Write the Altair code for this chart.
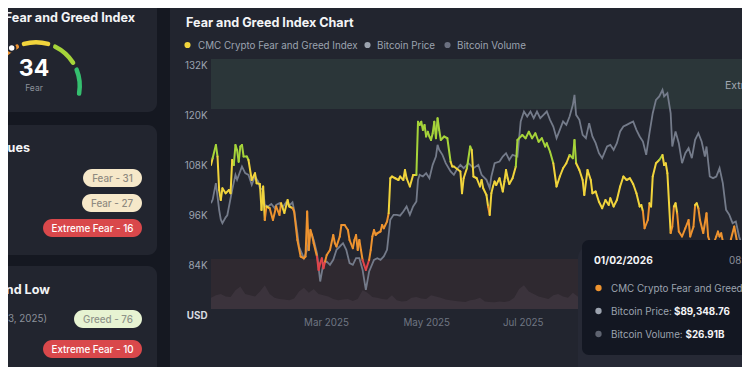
import altair as alt
import pandas as pd
import math

START = pd.Timestamp("2025-01-02")

# ---------------- data ----------------
fg_days = [0, 1, 3, 4, 5, 6, 7, 9, 11, 12, 13, 14, 15, 16, 17, 18, 19, 20, 22, 23, 25, 27, 28, 30, 31, 32, 33, 34,
           36, 38, 40, 42, 43, 45, 47, 48, 50, 51, 53, 55, 57, 58, 59, 60, 61, 62, 63, 65, 66, 67, 68, 69, 70, 71,
           73, 75, 76, 77, 79, 80, 82, 84, 85, 87, 88, 89, 90, 91, 92, 93, 94, 95, 97, 98, 99, 100, 101, 102, 104,
           105, 106, 108, 109, 110, 111, 113, 115, 116, 118, 119, 120, 122, 124, 126, 127, 128, 129, 130, 131, 132,
           133, 134, 135, 136, 137, 138, 139, 140, 141, 143, 145, 147, 148, 149, 151, 153, 154, 155, 157, 159, 160,
           161, 163, 165, 166, 167, 169, 170, 171, 172, 173, 174, 175, 177, 179, 180, 181, 182, 183, 185, 187, 188,
           191, 193, 195, 197, 199, 201, 203, 205, 206, 208, 210, 212, 214, 216, 218, 220, 222, 223, 224, 226, 228,
           229, 231, 233, 234, 236, 238, 240, 242, 244, 245, 247, 249, 251, 253, 255, 257, 259, 261, 263, 264, 265,
           266, 268, 269, 270, 271, 273, 275, 277, 278, 279, 280, 282, 283, 284, 285, 286, 287, 289, 291, 293, 294,
           296, 297, 298, 299, 300, 302, 304, 305, 306, 308, 310, 311, 312, 313, 315, 317, 319, 321, 323, 325, 327,
           329, 331]
fg_vals = [57.6, 60.3, 65.6, 61, 47.6, 43.6, 48.3, 46.3, 47.6, 46.3, 59.6, 57.6, 65.6, 63.6, 58.9, 65, 65.6, 61, 61,
           59.6, 51.6, 54.3, 50.3, 50, 39.6, 49, 35.6, 41,
           40.3, 35.6, 41, 37.6, 42.3, 38.4, 43.6, 41, 40.4, 39, 27.6, 21, 20.3, 21, 39, 23.6, 31.6, 29.6, 26.3, 21,
           15.6, 18.3, 20.3, 16.3, 19, 21.6,
           23.6, 29.6, 26.3, 25, 29, 33.6, 33.6, 31.6, 27.6, 24.3, 27.6, 29.6, 23.6, 27.6, 23.6, 19.6, 17.6, 15.6,
           19.6, 23.6, 29, 31.6, 29.6, 30.3, 31,
           33.6, 32.3, 35, 38.3, 52.3, 53, 52.3, 51.6, 53, 51.6, 55.6, 52.3, 49, 53.6, 53.6, 74.9, 73.6, 74.9, 71.6,
           73.6, 69,
           70.9, 69, 67.6, 70.3, 74.9, 68.3, 76.3, 71.6, 67.6, 69, 68.3, 58.9, 57, 57, 56, 55, 46.3, 52.3, 56.3, 65,
           63.6,
           53, 52.3, 49, 51.6, 48.3, 45.6, 41, 37.6, 46.3, 49, 51, 49.6, 52.3, 47, 51, 55.6, 52.3, 50, 52.3, 57, 67.6,
           69.6, 68.3, 70.9, 68.3, 70.3, 66.9, 68.3, 65, 66.3, 62.9, 58.3, 49, 53, 56.3, 58.3, 61.6, 60.3, 67.6, 58.3,
           55.6, 51.6,
           45.6, 55.6, 51.6, 46.3, 47, 42.9, 40.3, 43.6, 41.6, 44.3, 41, 43.6, 49, 53, 51.6, 52.3, 50, 46.3, 41, 41.6,
           39,
           32.3, 35.6, 42.3, 41, 53, 58.3, 59.6, 61.6, 57.6, 58.3, 54.3, 30.4, 32.9, 41, 42.3, 38.3, 31, 29, 32.3,
           35.6, 29,
           32.9, 41.6, 42.3, 40.3, 35.6, 30.4, 38.3, 29, 26.9, 25.6, 29, 31, 29, 30.3, 24, 20, 28, 33, 26, 22, 30,
           25, 23]

price_days = [0, 1, 3, 5, 6, 7, 9, 10, 13, 15, 16, 19, 21, 23, 25, 27, 29, 30, 32, 33, 35, 37, 39, 40, 42, 44, 46,
              48, 50, 51, 53, 54, 55, 57, 59, 61, 63, 65, 67, 69, 71, 73, 75, 77, 79, 81, 83, 85, 87, 89, 91, 93, 95,
              97, 100, 102, 104, 106, 108, 110, 112, 114, 116, 118, 120, 122, 124, 126, 127, 128, 130, 132, 134, 136,
              138, 139, 140, 142, 144, 147, 149, 151, 153, 155, 158, 161, 164, 166, 169, 171, 172, 174, 177, 179,
              181, 183, 185, 188, 190, 192, 194, 196, 198, 200, 202, 204, 206, 208, 210, 212, 214, 216, 218, 220,
              222, 223, 224, 226, 228, 230, 232, 234, 236, 238, 240, 243, 245, 247, 249, 251, 253, 255, 257, 259,
              261, 263, 265, 267, 269, 271, 273, 275, 277, 278, 280, 282, 283, 285, 287, 289, 291, 293, 295, 297,
              299, 301, 303, 304, 306, 308, 310, 312, 314, 316, 318, 320, 322, 324, 326, 328, 330, 331]
price_k = [97.4, 98.2, 102.2, 95.8, 93.5, 92.6, 94, 94.5, 100.6, 104.2, 103, 106.2, 104.6, 104.2, 101.8, 103.8,
           102.6, 101, 100.6, 97, 96.6, 97.2, 96.2, 97, 97.4, 96.4, 97.6,
           96.8, 97.6, 95.8, 90.2, 87, 86, 84.2, 86.2, 90.6, 88.6, 85.4, 78.6, 83, 83.4, 82.6, 83.8, 86.2, 87, 87.8,
           86.2, 83, 82.6, 84.2, 84.2, 81.4, 76.6,
           81, 83.8, 84.2, 83.8, 84.6, 86.2, 93.4, 94.6, 94.6, 94.4, 95.4, 96.6, 94.6, 96.6, 97.8, 103, 104.2, 103.8,
           104.6, 103.4, 106.6,
           108.6, 111.4, 110.2, 109, 107, 105, 104.2, 105.6, 106.6, 105.8, 107, 105.8, 106.6, 104.2, 103, 101, 103.8,
           107, 107.4, 108.6,
           109.4, 107.8, 109, 108.6, 117, 119.4, 118.2, 119.4, 117.8, 119.4, 117.8, 118.6, 119.4, 117.4, 115.8, 113,
           115, 117, 116.2, 118.2,
           121, 123.4, 118.6, 117.4, 113.8, 113, 116.6, 113.4, 111.8, 109.4, 108.2, 111, 111.4, 110.2, 111.8, 114.6,
           115.8, 116.2, 116.6, 117,
           115, 113.4, 112.2, 109, 114.2, 119, 122.2, 123, 124.6, 123, 123.8, 119, 111, 114.6, 111.8, 107, 109.4,
           110.6, 108.2, 112.6,
           114.2, 112.2, 108.6, 111, 103.8, 103.4, 103.8, 105.8, 102.2, 95.8, 94.6, 92.6, 93, 89.4, 87, 85.5, 86.5,
           87]

vol_days = list(range(0, 331, 3))
vol_b = [45, 55, 60, 50, 48, 75, 90, 60, 55, 50,
         70, 95, 60, 45, 40, 38, 35, 42, 70, 85,
         65, 80, 60, 55, 50, 40, 35, 38, 40, 32,
         40, 75, 65, 48, 45, 40, 38, 55, 35, 30,
         32, 45, 48, 42, 40, 55, 50, 45, 38, 35,
         32, 30, 28, 35, 38, 45, 30, 28, 27, 30,
         28, 32, 45, 80, 95, 70, 60, 50, 45, 40,
         55, 60, 50, 45, 65, 50, 38, 30, 35, 40,
         42, 35, 30, 45, 40, 35, 38, 50, 45, 42,
         40, 55, 60, 65, 50, 90, 80, 60, 55, 58,
         60, 70, 55, 58, 65, 80, 85, 75, 70, 65,
         55]

zone_names = ["Extreme Fear", "Extreme Greed"]
zone_lo = [0, 80]
zone_hi = [20, 100]
zone_mid = [10, 90]

band_names = ["Extreme Fear", "Fear", "Neutral", "Greed", "Extreme Greed"]
band_colors = ["#e2444a", "#ee932f", "#f1d43c", "#a6d43a", "#35bf6f"]

price_ticks = [72, 84, 96, 108, 120, 132]

# ---------------- tables ----------------
fg_dates = START + pd.to_timedelta(fg_days, unit="D")
seg = pd.DataFrame({"date": fg_dates[:-1], "date2": fg_dates[1:],
                    "fg": fg_vals[:-1], "fg2": fg_vals[1:]})
price = pd.DataFrame({"date": START + pd.to_timedelta(price_days, unit="D"), "price": price_k})
vol = pd.DataFrame({"date": START + pd.to_timedelta(vol_days, unit="D"), "vol": vol_b})
zones = pd.DataFrame({"name": zone_names, "lo": zone_lo, "hi": zone_hi, "mid": zone_mid})

FONT = "Inter"
OX, OY = 211, 59
W, H = 531, 250
FS = 9.8

xscale = alt.Scale(domain=[alt.DateTime(year=2025, month=1, date=2),
                           alt.DateTime(year=2025, month=11, date=23, hours=18, minutes=30)])
xaxis = alt.Axis(values=[alt.DateTime(year=2025, month=m, date=1) for m in (3, 5, 7, 9, 11)],
                 format="%b %Y", labelAlign="left", labelOffset=-2, labelPadding=8,
                 labelColor="#6f7582", labelFontSize=9.8, labelFont=FONT,
                 grid=False, ticks=False, domain=False, title=None)
idx_scale = alt.Scale(domain=[0, 100], nice=False, zero=False)

one = alt.Data(values=[{"k": 0}])


def rect(x1, y1, x2, y2, fill, r=0, op=1.0):
    return alt.Chart(one).mark_rect(fill=fill, cornerRadius=r, opacity=op).encode(
        x=alt.value(x1 - OX), x2=alt.value(x2 - OX), y=alt.value(y1 - OY), y2=alt.value(y2 - OY))


def text(x, y, s, size=FS, color="#9ca3af", weight="normal", align="left"):
    return alt.Chart(one).mark_text(text=s, fontSize=size, color=color, fontWeight=weight,
                                    align=align, baseline="middle", font=FONT).encode(
        x=alt.value(x - OX), y=alt.value(y - OY))


def dot(x, y, color, size=40, stroke=None):
    kw = dict(size=size, fill=color, opacity=1)
    if stroke:
        kw.update(stroke=stroke, strokeWidth=2, strokeOpacity=1)
    return alt.Chart(one).mark_point(filled=True, **kw).encode(x=alt.value(x - OX), y=alt.value(y - OY))


def pill(x1, y1, x2, y2, fill, label, tcolor, weight=500):
    return [rect(x1, y1, x2, y2, fill, r=(y2 - y1) / 2),
            text((x1 + x2) / 2, (y1 + y2) / 2 + 0.5, label, FS, tcolor, weight, "center")]


layers = []
# page background (gap) and left cards
CARD = "#22252f"
layers.append(rect(-20, -20, 170, 400, "#151821"))
layers.append(rect(-30, -20, 157, 112, CARD, r=9))
layers.append(rect(-30, 125, 157, 255, CARD, r=9))
layers.append(rect(-30, 266, 157, 420, CARD, r=9))

# card 1: gauge
layers.append(text(135, 18, "CMC Crypto Fear and Greed Index", 12.6, "#f3f4f6", "bold", "right"))
gauge_cols = ["#e2444a", "#ee932f", "#f1d43c", "#a6d43a", "#35bf6f"]
for i, c in enumerate(gauge_cols):
    a1 = math.radians(360 - 105 + 42 * i + 2.2)
    a2 = math.radians(360 - 105 + 42 * (i + 1) - 2.2)
    layers.append(alt.Chart(one).mark_arc(theta=a1, theta2=a2, radius=46, radius2=41.5,
                                          cornerRadius=2.2, fill=c).encode(
        x=alt.value(36 - OX), y=alt.value(86 - OY)))
layers.append(dot(11.7, 48, "#ffffff", size=55, stroke=CARD))
layers.append(text(34, 69, "34", 23, "#ffffff", "bold", "center"))
layers.append(text(34, 88, "Fear", 8.5, "#8b909a", "normal", "center"))

# card 2: historical values
layers.append(text(30, 148, "Historical Values", 12.6, "#f3f4f6", "bold", "right"))
layers += pill(83, 169, 142, 187, "#f6e8c9", "Fear - 31", "#8f8a80")
layers += pill(82, 194, 142, 212, "#f6e8c9", "Fear - 27", "#8f8a80")
layers += pill(43, 219, 142, 237, "#d9484b", "Extreme Fear - 16", "#ffffff")

# card 3: yearly high and low
layers.append(text(50, 290, "Yearly High and Low", 12.6, "#f3f4f6", "bold", "right"))
layers.append(text(47, 319, "Yearly High (May 23, 2025)", FS, "#8b909a", "normal", "right"))
layers += pill(74, 310, 142, 328, "#e7f3d2", "Greed - 76", "#8f948a")
layers += pill(43, 340, 142, 358, "#d9484b", "Extreme Fear - 10", "#ffffff")

# main chart title + legend
layers.append(text(186, 23, "Fear and Greed Index Chart", 12.6, "#f3f4f6", "bold"))
layers.append(dot(187.5, 45, "#f1d43c", 38))
layers.append(text(198, 45.5, "CMC Crypto Fear and Greed Index", FS, "#9ca3af"))
layers.append(dot(367.5, 45, "#9ca3af", 38))
layers.append(text(377, 45.5, "Bitcoin Price", FS, "#9ca3af"))
layers.append(dot(447.5, 45, "#6b7080", 38))
layers.append(text(457, 45.5, "Bitcoin Volume", FS, "#9ca3af"))

# zones
zone_layer = alt.Chart(zones).mark_rect().encode(
    x=alt.value(0), x2=alt.value(W),
    y=alt.Y("lo:Q", scale=idx_scale, axis=None), y2="hi:Q",
    color=alt.Color("name:N", scale=alt.Scale(domain=zone_names, range=["#2f2930", "#2b3639"]), legend=None))
zone_text = alt.Chart(zones).mark_text(align="left", baseline="middle", dy=2, fontSize=10.5,
                                       color="#a3a8b2", font=FONT).encode(
    x=alt.value(725 - OX), y=alt.Y("mid:Q", scale=idx_scale, axis=None), text="name:N")

vol_layer = alt.Chart(vol).mark_area(color="#3b333c", interpolate="linear", clip=True).encode(
    x=alt.X("date:T", scale=xscale, axis=xaxis),
    y=alt.Y("vol:Q", scale=alt.Scale(domain=[0, 1000], nice=False), axis=None))

price_layer = alt.Chart(price).mark_line(color="#747b8a", strokeWidth=1.8, clip=True).encode(
    x=alt.X("date:T", scale=xscale, axis=xaxis),
    y=alt.Y("price:Q", scale=alt.Scale(domain=[72, 132], nice=False, zero=False),
            axis=alt.Axis(values=price_ticks, title=None, ticks=False, domain=False,
                          labelExpr="datum.value == 72 ? 'USD' : datum.value + 'K'",
                          labelColor={"condition": {"test": "datum.value == 72", "value": "#d8dbe0"},
                                      "value": "#9ca3af"},
                          labelFontWeight={"condition": {"test": "datum.value == 72", "value": "bold"},
                                           "value": "normal"},
                          labelFont=FONT, labelFontSize=9.8, labelBaseline="top", labelOffset=1.5,
                          labelPadding=4, gridColor="#646a78", gridDash=[1.5, 3], gridWidth=1)))

fg_layer = alt.Chart(seg).transform_calculate(
    band="(datum.fg + datum.fg2) / 2 < 20 ? 'Extreme Fear' : (datum.fg + datum.fg2) / 2 < 40 ? 'Fear' : "
         "(datum.fg + datum.fg2) / 2 < 60 ? 'Neutral' : (datum.fg + datum.fg2) / 2 < 80 ? 'Greed' : 'Extreme Greed'"
).mark_rule(strokeWidth=2, strokeCap="round", clip=True).encode(
    x=alt.X("date:T", scale=xscale, axis=xaxis), x2="date2:T",
    y=alt.Y("fg:Q", scale=idx_scale, axis=None), y2="fg2:Q",
    color=alt.Color("band:N", scale=alt.Scale(domain=band_names, range=band_colors), legend=None))

layers += [zone_layer, zone_text, vol_layer, price_layer, fg_layer]

# tooltip
layers.append(rect(578, 246, 780, 380, "#262935", r=12))
layers.append(rect(582, 240, 780, 355, "#131722", r=7))
layers.append(text(594, 261, "01/02/2026", 10.2, "#f3f4f6", "bold"))
layers.append(text(729, 261, "08:30 AM", FS, "#8b909a"))
layers.append(dot(598.5, 288, "#ee932f", 40))
layers.append(text(611, 288.5, "CMC Crypto Fear and Greed Index: 29", FS, "#9ca3af"))
layers.append(dot(598.5, 311, "#9ca3af", 40))
layers.append(text(611, 311.5, "Bitcoin Price:", FS, "#9ca3af"))
layers.append(text(674, 311.5, "$89,348.76", FS, "#f3f4f6", "bold"))
layers.append(dot(598.5, 334, "#5e6370", 40))
layers.append(text(611, 334.5, "Bitcoin Volume:", FS, "#9ca3af"))
layers.append(text(685.5, 334.5, "$26.91B", FS, "#f3f4f6", "bold"))

chart = alt.layer(*layers).resolve_scale(y="independent", color="independent").properties(
    width=W, height=H,
    autosize=alt.AutoSizeParams(type="none"),
    padding={"left": 203, "top": 51, "right": 0, "bottom": 58},
).configure(background=CARD).configure_view(stroke=None)

chart.save("out.html", embed_options={"renderer": "svg", "actions": False})
